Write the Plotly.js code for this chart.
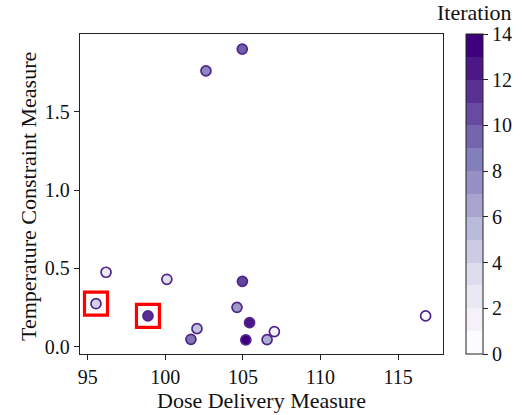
<!DOCTYPE html>
<html>
<head>
<meta charset="utf-8">
<script src="https://cdn.plot.ly/plotly-3.0.1.min.js"></script>
<style>html,body{margin:0;padding:0;background:#fff;}#chart{width:522px;height:415px;}</style>
</head>
<body>
<div id="chart"></div>
<script>
// Data
const doseDelivery = [116.78, 107.03, 96.18, 100.10, 95.53, 102.04, 106.56, 104.62, 102.62, 101.65, 104.96, 104.97, 98.88, 105.43, 105.19];
const tempConstraint = [0.196, 0.096, 0.475, 0.430, 0.274, 0.115, 0.045, 0.251, 1.761, 0.047, 1.900, 0.417, 0.196, 0.153, 0.043];
const iteration = [0, 1, 2, 3, 4, 5, 6, 7, 8, 9, 10, 11, 12, 13, 14];
const highlighted = [4, 12]; // indices of boxed points
const xTicks = [95, 100, 105, 110, 115];
const yTicks = [0, 0.5, 1.0, 1.5];
const cbTicks = [0, 2, 4, 6, 8, 10, 12, 14];

// Purples palette (matplotlib)
const purples = ['#fcfbfd','#efedf5','#dadaeb','#bcbddc','#9e9ac8','#807dba','#6a51a3','#54278f','#3f007d'];
function hexToRgb(h){return [parseInt(h.slice(1,3),16),parseInt(h.slice(3,5),16),parseInt(h.slice(5,7),16)];}
function samplePurples(t){
  const n = purples.length - 1;
  const p = Math.min(Math.max(t,0),1)*n;
  const i = Math.min(Math.floor(p), n-1);
  const f = p - i;
  const a = hexToRgb(purples[i]), b = hexToRgb(purples[i+1]);
  const c = a.map((v,k)=>Math.round(v+(b[k]-v)*f));
  return 'rgb('+c.join(',')+')';
}
const contScale = purples.map((c,i)=>[i/(purples.length-1), c]);
const nBins = 14;
const discScale = [];
for (let i=0;i<nBins;i++){
  const col = samplePurples(i/(nBins-1));
  discScale.push([i/nBins, col]);
  discScale.push([(i+1)/nBins, col]);
}

const serif = 'Liberation Serif, Times New Roman, serif';
const plotRight = 443, plotLeft = 80, paperRight = 483, plotTop = 34, plotBottom = 354;
const paperW = paperRight - plotLeft, plotH = plotBottom - plotTop;
const tickSize = 20, titleSize = 22;

const traces = [
  {
    type: 'scatter', mode: 'markers',
    x: doseDelivery, y: tempConstraint,
    marker: {
      color: iteration, colorscale: contScale, cmin: 0, cmax: 14,
      size: 10, line: {color: '#4f2589', width: 1.7}, showscale: false
    },
    hoverinfo: 'x+y', showlegend: false
  },
  {
    type: 'scatter', mode: 'markers',
    x: doseDelivery, y: tempConstraint,
    marker: {
      color: iteration, colorscale: discScale, cmin: 0, cmax: 14,
      size: 10, opacity: 0, showscale: true,
      colorbar: {
        x: (466 - plotLeft)/paperW, xanchor: 'left', xpad: 0,
        y: 0.5, yanchor: 'middle', len: 1, lenmode: 'fraction', ypad: 0,
        thickness: 17, thicknessmode: 'pixels', automargin: false,
        outlinewidth: 1, outlinecolor: '#222', borderwidth: 0,
        tickmode: 'array', tickvals: cbTicks, ticktext: cbTicks.map(String),
        ticks: 'outside', ticklen: 5, tickcolor: '#222', tickwidth: 1,
        tickfont: {family: serif, size: tickSize, color: '#111'}
      }
    },
    hoverinfo: 'skip', showlegend: false
  }
];

const shapes = highlighted.map(i => ({
  type: 'rect', xref: 'x', yref: 'y',
  xsizemode: 'pixel', ysizemode: 'pixel',
  xanchor: doseDelivery[i], yanchor: tempConstraint[i],
  x0: -11.5, x1: 11.5, y0: -11.5, y1: 11.5,
  line: {color: '#ff0000', width: 3.2}, fillcolor: 'rgba(0,0,0,0)'
}));

const layout = {
  width: 522, height: 415,
  margin: {l: plotLeft, r: 522 - paperRight, t: plotTop, b: 415 - plotBottom, pad: 0, autoexpand: false},
  paper_bgcolor: '#fff', plot_bgcolor: '#fff',
  font: {family: serif, color: '#111'},
  xaxis: {
    domain: [0, (plotRight - plotLeft)/paperW],
    range: [94.5, 117.9], automargin: false,
    tickvals: xTicks,
    ticks: 'outside', ticklen: 5, tickcolor: '#222', tickwidth: 1,
    showline: true, mirror: true, linecolor: '#222', linewidth: 1.2,
    showgrid: false, zeroline: false,
    tickfont: {family: serif, size: tickSize, color: '#111'}
  },
  yaxis: {
    range: [-0.047, 1.996], automargin: false,
    tickvals: yTicks, ticktext: yTicks.map(v => v.toFixed(1)),
    ticks: 'outside', ticklen: 5, tickcolor: '#222', tickwidth: 1,
    showline: true, mirror: true, linecolor: '#222', linewidth: 1.2,
    showgrid: false, zeroline: false,
    tickfont: {family: serif, size: tickSize, color: '#111'}
  },
  shapes: shapes,
  annotations: [
    {
      xref: 'paper', yref: 'paper',
      x: (474 - plotLeft)/paperW, y: 1 + (plotTop - 13)/plotH,
      xanchor: 'center', yanchor: 'middle', borderpad: 0,
      text: 'Iteration', showarrow: false,
      font: {family: serif, size: 22, color: '#111'}
    },
    {
      xref: 'paper', yref: 'paper',
      x: ((plotLeft + plotRight)/2 - plotLeft)/paperW, y: -(400 - plotBottom)/plotH,
      xanchor: 'center', yanchor: 'middle',
      text: 'Dose Delivery Measure', showarrow: false,
      font: {family: serif, size: titleSize, color: '#111'}
    },
    {
      xref: 'paper', yref: 'paper',
      x: -(plotLeft - 28)/paperW, y: 1 - (197 - plotTop)/plotH,
      xanchor: 'center', yanchor: 'middle', textangle: -90,
      text: 'Temperature Constraint Measure', showarrow: false,
      font: {family: serif, size: titleSize, color: '#111'}
    }
  ]
};

Plotly.newPlot('chart', traces, layout, {displayModeBar: false, staticPlot: true});
</script>
</body>
</html>
